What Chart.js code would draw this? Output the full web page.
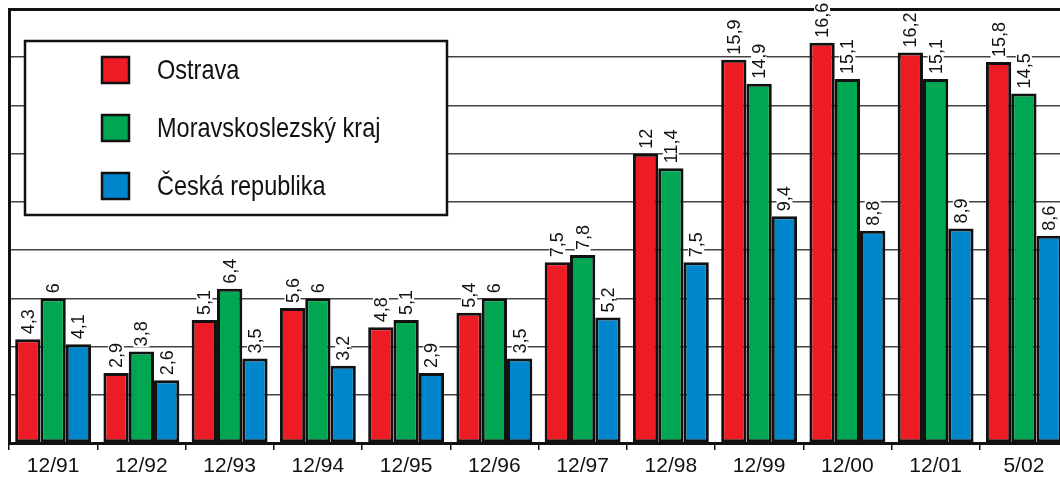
<!DOCTYPE html>
<html>
<head>
<meta charset="utf-8">
<script src="https://cdn.jsdelivr.net/npm/chart.js@4/dist/chart.umd.min.js"></script>
<style>
    html, body { margin: 0; padding: 0; background: #fff; overflow: hidden; }
    #wrap { width: 1076px; height: 477px; }
</style>
</head>
<body>
<div id="wrap"><canvas id="chart"></canvas></div>
<script>
// Data
const periods = ["12/91", "12/92", "12/93", "12/94", "12/95", "12/96", "12/97", "12/98", "12/99", "12/00", "12/01", "5/02"];
const ostrava = [4.3, 2.9, 5.1, 5.6, 4.8, 5.4, 7.5, 12, 15.9, 16.6, 16.2, 15.8];
const msKraj = [6, 3.8, 6.4, 6, 5.1, 6, 7.8, 11.4, 14.9, 15.1, 15.1, 14.5];
const cr = [4.1, 2.6, 3.5, 3.2, 2.9, 3.5, 5.2, 7.5, 9.4, 8.8, 8.9, 8.6];
const seriesNames = ["Ostrava", "Moravskoslezský kraj", "Česká republika"];
const colors = ["#ed1c24", "#00a651", "#0086cd"];

const ctx = document.getElementById("chart").getContext("2d");

// value labels rotated above the bars, with white background
const valueLabels = {
    id: "valueLabels",
    afterDatasetsDraw(chart) {
        const c = chart.ctx;
        c.save();
        c.font = "18px 'Liberation Sans', Arial, sans-serif";
        c.textBaseline = "middle";
        c.textAlign = "left";
        chart.data.datasets.forEach((ds, i) => {
            chart.getDatasetMeta(i).data.forEach((bar, j) => {
                const txt = String(ds.data[j]).replace(".", ",");
                const w = c.measureText(txt).width;
                c.save();
                c.translate(bar.x, bar.y - 5);
                c.rotate(-Math.PI / 2);
                c.fillStyle = "#fff";
                c.fillRect(-1, -8, w + 2, 16);
                c.fillStyle = "#111";
                c.fillText(txt, 0, 1);
                c.restore();
            });
        });
        c.restore();
    }
};

// legend box in the upper left (condensed text)
const boxLegend = {
    id: "boxLegend",
    afterDatasetsDraw(chart) {
        const c = chart.ctx;
        c.save();
        c.fillStyle = "#fff";
        c.fillRect(25, 41, 422, 174);
        c.lineWidth = 2.5;
        c.strokeStyle = "#111";
        c.strokeRect(25, 41, 422, 174);
        c.font = "28px 'Liberation Sans', Arial, sans-serif";
        c.textBaseline = "middle";
        chart.data.datasets.forEach((ds, i) => {
            const y = 70 + i * 58;
            c.fillStyle = ds.backgroundColor;
            c.fillRect(102, y - 13, 27, 26);
            c.strokeRect(102, y - 13, 27, 26);
            c.save();
            c.translate(157, y + 1);
            c.scale(0.84, 1);
            c.fillStyle = "#111";
            c.fillText(ds.label, 0, 0);
            c.restore();
        });
        c.restore();
    }
};

const chart = new Chart(ctx, {
    type: "bar",
    data: {
        labels: periods,
        datasets: [ostrava, msKraj, cr].map((d, i) => ({
            label: seriesNames[i],
            data: d,
            backgroundColor: colors[i],
            borderColor: "#111",
            borderWidth: 3,
            borderSkipped: false,
            categoryPercentage: 0.86,
            barPercentage: 1.0
        }))
    },
    options: {
        responsive: true,
        maintainAspectRatio: false,
        animation: false,
        layout: { padding: { left: 9, top: 9, right: 8, bottom: 0 } },
        plugins: {
            legend: { display: false },
            tooltip: { enabled: false }
        },
        scales: {
            x: {
                afterFit: s => { s.height = 34; },
                grid: {
                    offset: true,
                    drawOnChartArea: false,
                    drawTicks: true,
                    tickLength: 7,
                    color: "#111",
                    lineWidth: 1.5
                },
                border: { display: true, color: "#111", width: 3 },
                ticks: {
                    color: "#111",
                    padding: 4,
                    font: { family: "'Liberation Sans', Arial, sans-serif", size: 21 }
                }
            },
            y: {
                min: 0,
                max: 18,
                afterFit: s => { s.width = 0; },
                ticks: { stepSize: 2, display: false },
                grid: {
                    drawTicks: false,
                    color: c => c.tick.value === 18 ? "#111" : "#444",
                    lineWidth: c => c.tick.value === 18 ? 3 : 1.5
                },
                border: { display: true, color: "#111", width: 3 }
            }
        }
    },
    plugins: [valueLabels, boxLegend]
});
</script>
</body>
</html>
